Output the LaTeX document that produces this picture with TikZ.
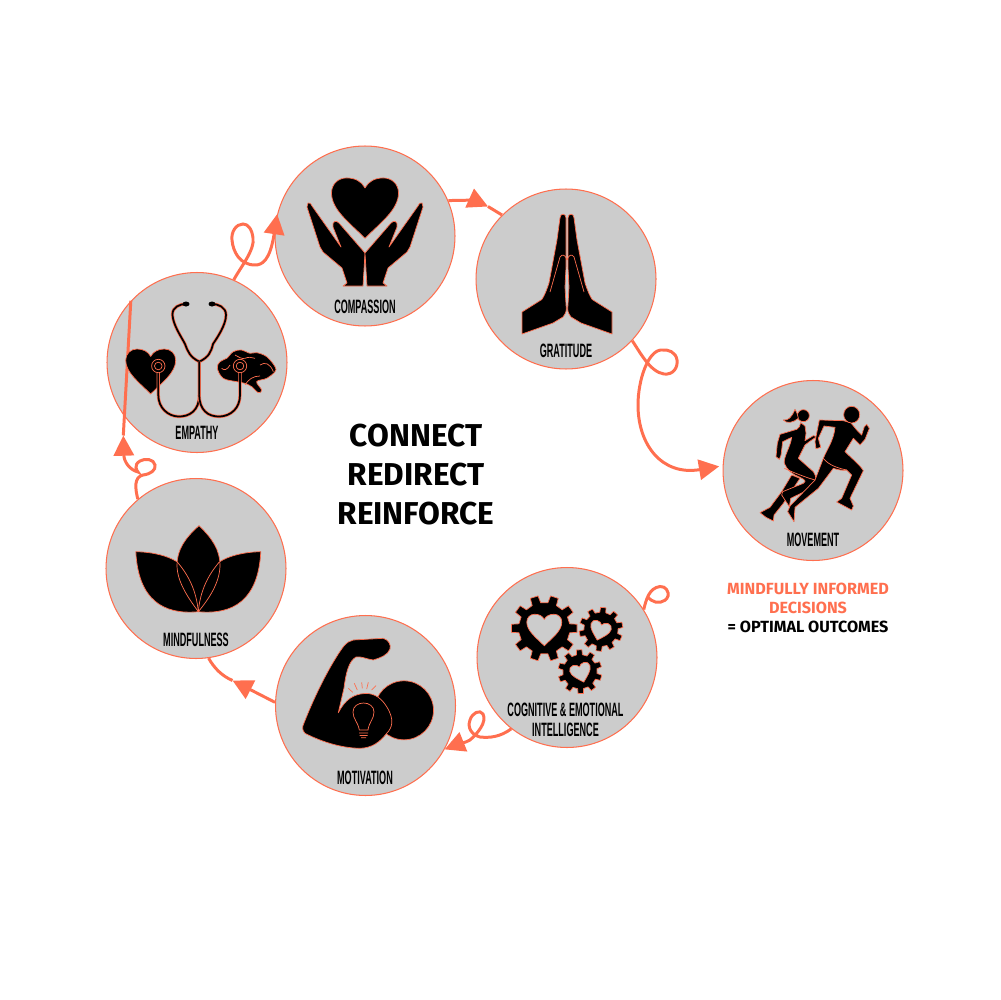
\documentclass[tikz,border=0pt]{standalone}
\usepackage{fontspec}
\usepackage{tikz}
\usetikzlibrary{positioning, arrows.meta}
\setmainfont{Fira Sans}
\newfontfamily\tagfont[FakeStretch=0.47]{Liberation Sans}
\definecolor{accent}{HTML}{FF6F4F}
\definecolor{spotgray}{HTML}{CCCCCC}
\tikzset{
    heartpic/.pic={\path[pic actions] (0,1.3) .. controls (-.45,.85) and (-1,.45) .. (-1,-.05) .. controls (-1,-.32) and (-.8,-.5) .. (-.55,-.5) .. controls (-.3,-.5) and (-.1,-.4) .. (0,-.2) .. controls (.1,-.4) and (.3,-.5) .. (.55,-.5) .. controls (.8,-.5) and (1,-.32) .. (1,-.05) .. controls (1,.45) and (.45,.85) .. (0,1.3) -- cycle;},
    gearpic/.pic={\path[pic actions] (-10:.78) \foreach \a in {0,36,...,324} { -- ({\a-10}:.78) -- ({\a-7}:1) -- ({\a+7}:1) -- ({\a+10}:.78) } -- cycle;}
}
\begin{document}
\begin{tikzpicture}[
    x=0.02cm, y=-0.02cm,
    spot/.style={circle, draw=accent, fill=spotgray, line width=0.6pt, minimum size=3.6cm, inner sep=0pt},
    tag/.style={font=\tagfont\bfseries\fontsize{11}{11.4}\selectfont, align=center, text=black},
    icon/.style={fill=black, draw=accent, line width=0.4pt, line join=round},
    thin line/.style={draw=accent, line width=0.4pt},
    tube/.style={draw=accent, double=black, line width=0.4pt, double distance=1pt},
    flow/.style={draw=accent, line width=1.7pt},
    arrow/.style={flow, -{Triangle[length=11.5pt, width=11.5pt]}},
    heading/.style={font=\bfseries\fontsize{18}{22.2}\selectfont, align=center},
    note/.style={font=\bfseries\fontsize{9.2}{10.6}\selectfont, align=center}
]
\useasboundingbox (0,0) rectangle (1000,1000);

\draw[flow] (0,0) (0,0);
\node[spot] (compassion) at (365,236) {};
\node[spot] (gratitude) at (566,279) {};
\node[spot] (movement) at (813,470.5) {};
\node[spot] (cognitive) at (567,657.5) {};
\node[spot] (motivation) at (365.5,705.5) {};
\node[spot] (mindfulness) at (196,568.5) {};
\node[spot] (empathy) at (197,362.5) {};

\coordinate (tipcompassion) at (488,206.5);
\coordinate (tipmotivation) at (232.5,680.5);
\coordinate (tipmindfulness) at (123.3,435.5);

\draw[arrow] (compassion.23) .. controls (460,200) and (476,201) .. (tipcompassion);
\draw[flow] (tipcompassion) -- (gratitude.135);
\draw[arrow, shorten >=2pt] (gratitude.-43) .. controls (640,352) and (650,372) .. (664,374) .. controls (673,375) and (678,368) .. (677,360) .. controls (676,352) and (668,349) .. (661,350) .. controls (648,351) and (638,380) .. (638,405) .. controls (638,445) and (662,476) .. (movement.177);
\draw[flow] (cognitive.32) .. controls (646,600) and (649,588) .. (660,586.5) .. controls (666,586) and (669,592) .. (668,596) .. controls (666,603) and (656,604) .. (651,600) .. controls (649,598) and (647,597) .. (648,596);
\draw[arrow] (cognitive.232.6) .. controls (500,737) and (490,738) .. (480,737) .. controls (472,735) and (467,728) .. (470,720) .. controls (472,713) and (480,709) .. (483,714) .. controls (487,722) and (478,733) .. (470,740) .. controls (465,743) and (458,744) .. (motivation.-29);
\draw[arrow] (motivation.178) -- (tipmotivation);
\draw[flow] (tipmotivation) .. controls (222,676) and (214,668) .. (mindfulness.-82);
\draw[arrow] (mindfulness.130) .. controls (135,488) and (134,477) .. (143,475) .. controls (151,474) and (156,470) .. (155,465) .. controls (154,459) and (145,458) .. (140,461) .. controls (133,465) and (137,471) .. (138,472) .. controls (130,470) and (124,462) .. (tipmindfulness);
\draw[flow] (tipmindfulness) -- (empathy.137);
\draw[arrow] (empathy.66) .. controls (240,268) and (255,250) .. (253,238) .. controls (252,229) and (248,224) .. (243,224) .. controls (236,224) and (231,232) .. (232,240) .. controls (233,252) and (240,265) .. (255,265) .. controls (262,265) and (270,261) .. (compassion.166);

\pic[icon, scale=33.5] at (365,194.7) {heartpic};
\foreach \s in {1,-1} {
    \draw[icon, shift={(365,0)}, xscale=\s] (-57,203) .. controls (-55,202) and (-54,204) .. (-53,206) -- (-24,247) -- (-32,227) .. controls (-33,221) and (-29,220) .. (-26,223) -- (0,253) -- (-2,286) -- (-22,286) -- (-18,283) -- (-23,268) -- (-42,252) -- (-45,247) -- (-58,207) -- cycle;
}

\foreach \s in {1,-1} {
    \draw[icon, shift={(567,0)}, xscale=\s] (-1,218) .. controls (-1,213) and (-7,213) .. (-7,218) -- (-10,240) -- (-18,283) .. controls (-22,295) and (-25,300) .. (-26,300) -- (-45,312) -- (-45,334) -- (-14,323) -- (-4,317) .. controls (-1,313) and (0,310) .. (-1,305) -- (-2,287) -- (-1,267) -- cycle;
    \draw[thin line, shift={(567,0)}, xscale=\s] (-17,292) -- (-7,257) .. controls (-5,254) and (-2,254) .. (0,260);
}

\pic[icon, scale=25] at (150.7,361.5) {heartpic};
\draw[icon, shift={(210,340)}, scale=1/3] plot[smooth cycle, tension=0.6] coordinates {(22,85) (30,65) (50,55) (70,35) (95,30) (120,40) (140,38) (170,50) (195,80) (195,95) (170,115) (140,125) (155,150) (145,158) (125,140) (105,130) (80,125) (40,115)};
\draw[thin line, shift={(210,340)}, scale=1/3] (35,85) .. controls (42,92) and (52,90) .. (60,75) (75,45) .. controls (85,50) and (95,58) .. (105,55) .. controls (115,50) and (125,52) .. (135,55) (150,75) .. controls (165,65) and (180,70) .. (190,95) (105,135) .. controls (115,118) and (130,108) .. (150,108);
\draw[tube] (186,304) .. controls (180,304) and (172,307) .. (172.5,315) .. controls (173,325) and (182,338) .. (185,344) .. controls (188,352) and (190,357) .. (199.3,361.7) .. controls (209,357) and (211,352) .. (213,344) .. controls (217,338) and (226,325) .. (226,315) .. controls (226,307) and (218,304) .. (212,304);
\draw[tube] (158.3,366) -- (158.3,395) .. controls (158.3,408) and (168,416) .. (178,416.5) .. controls (190,417) and (199.3,410) .. (199.3,395) -- (199.3,361.7);
\draw[tube] (240,366) -- (240,395) .. controls (240,408) and (231,416) .. (220,416.5) .. controls (208,417) and (199.3,410) .. (199.3,395);
\fill (186,304) ellipse (3.5 and 2.5) (212,304) ellipse (3.5 and 2.5);
\foreach \cx in {158.3,240} {
    \draw[icon] (\cx,366) circle (6.7);
    \draw[thin line] (\cx,366) circle (3.8);
}

\foreach \s in {1,-1} {
    \draw[icon, shift={(198.3,0)}, xscale=\s] (-62.5,551.7) .. controls (-45,552) and (-30,556) .. (-21,562) .. controls (-10,575) and (-2,590) .. (0,611.7) .. controls (-35,615) and (-60,600) .. (-62.5,551.7) -- cycle;
}
\draw[icon] (199,525.7) .. controls (185,538) and (177,550) .. (177,565) .. controls (177,583) and (190,600) .. (198.3,611.7) .. controls (208,600) and (220,583) .. (220,565) .. controls (220,550) and (212,538) .. (199,525.7) -- cycle;
\foreach \s in {1,-1} {
    \draw[thin line, shift={(198.3,0)}, xscale=\s] (-21,562) .. controls (-10,575) and (-2,590) .. (0,611.7);
}

\draw[icon] (404,710.3) circle (29.5);
\draw[icon] (383.3,638.3) .. controls (389,640) and (391,645) .. (390,649) .. controls (388,655) and (380,658) .. (373.3,660) .. controls (366,659) and (361,656) .. (356,657) .. controls (349,661) and (346,672) .. (344,688) -- (338.3,712.7) .. controls (345,700) and (353,694) .. (365,693.5) .. controls (375,693) and (382,699) .. (386.7,706.7) .. controls (395,720) and (392,728) .. (386.7,733.3) .. controls (380,742) and (372,748) .. (360,748.3) .. controls (340,748) and (320,741) .. (305,733.3) .. controls (302,730) and (302,727) .. (304,723) .. controls (315,695) and (330,665) .. (343.3,646.7) .. controls (347,642) and (350,641) .. (353.3,640) -- cycle;
\draw[thin line] (348.3,688.3) -- (352.7,692.3) (354.3,683.3) -- (357.3,690) (361.7,682.3) -- (362.3,688.3) (368.3,682.3) -- (366.7,689) (376,685.7) -- (371.7,690);
\draw[thin line] (359.3,730) .. controls (358,722) and (353,719) .. (353,712) .. controls (353,700) and (374,700) .. (374,712) .. controls (374,719) and (369,722) .. (368,730) -- cycle (359,733) -- (368,733) (359.5,735.5) -- (367.5,735.5) (361,737.7) -- (366,737.7);

\pic[icon, scale=33] at (544.3,628.3) {gearpic};
\pic[icon, scale=22, rotate=12] at (601,629.3) {gearpic};
\pic[icon, scale=22, rotate=20] at (580,671.7) {gearpic};
\pic[icon, fill=spotgray, scale=17.5] at (544.3,623) {heartpic};
\pic[icon, fill=spotgray, scale=10.5, rotate=-16] at (601,627) {heartpic};
\pic[icon, fill=spotgray, scale=10.5, rotate=16] at (580,669) {heartpic};

\begin{scope}[shift={(750,400)}, scale=1/3]
    \draw[icon] (125,225) -- (95,275) -- (60,322) -- (30,338) -- (48,352) -- (70,363) -- (72,345) -- (100,310) -- (150,235) -- cycle;
    \draw[icon] (152,68) .. controls (150,78) and (148,84) .. (140,88) -- (90,103) -- (82,130) -- (78,170) -- (88,178) -- (93,165) -- (98,125) -- (125,112) .. controls (122,140) and (100,170) .. (103,190) .. controls (110,210) and (130,225) .. (150,232) .. controls (165,240) and (170,243) .. (160,250) -- (98,275) -- (95,285) -- (118,320) -- (122,295) -- (190,262) .. controls (202,245) and (200,230) .. (190,215) -- (145,175) -- (165,135) -- (178,125) -- (200,110) -- (190,107) -- (165,122) -- (168,100) -- (165,78) -- cycle;
    \draw[icon] (160,47) circle (18);
    \draw[icon] (100,60) .. controls (115,62) and (125,52) .. (135,28) .. controls (140,35) and (142,42) .. (145,55) .. controls (130,68) and (110,72) .. (100,60) -- cycle;
    \draw[icon] (208,60) -- (195,125) -- (198,146) -- (212,142) -- (205,115) -- (222,78) -- (255,82) .. controls (252,120) and (230,150) .. (220,175) -- (195,240) -- (120,318) -- (113,335) -- (132,365) -- (135,322) -- (205,265) -- (250,205) .. controls (265,210) and (280,212) .. (290,210) -- (305,225) -- (275,295) -- (260,306) -- (305,330) -- (310,318) -- (300,295) -- (340,212) .. controls (330,195) and (305,175) .. (285,155) -- (310,115) -- (330,135) -- (345,118) -- (358,85) -- (350,73) -- (343,80) -- (335,105) -- (322,92) -- (302,68) -- (280,62) -- cycle;
    \draw[icon] (305,44) ellipse (24 and 25);
    \draw[thin line] (220,175) .. controls (235,195) and (265,205) .. (290,210);
    \draw[thin line] (103,205) .. controls (125,215) and (160,230) .. (195,240);
\end{scope}

\node[tag] (compassionlabel) at (365,307) {COMPASSION};
\node[tag] (gratitudelabel) at (566,351) {GRATITUDE};
\node[tag] (movementlabel) at (813,540) {MOVEMENT};
\node[tag] (cognitivelabel) at (565.5,720) {COGNITIVE \& EMOTIONAL\\INTELLIGENCE};
\node[tag] (motivationlabel) at (365,778) {MOTIVATION};
\node[tag] (mindfulnesslabel) at (196,640) {MINDFULNESS};
\node[tag] (empathylabel) at (197,433) {EMPATHY};

\node[heading] (title) at (416,475) {CONNECT\\REDIRECT\\REINFORCE};
\node[note] (outcome) at (808,608) {\textcolor{accent}{MINDFULLY INFORMED}\\\textcolor{accent}{DECISIONS}\\= OPTIMAL OUTCOMES};
\end{tikzpicture}
\end{document}
